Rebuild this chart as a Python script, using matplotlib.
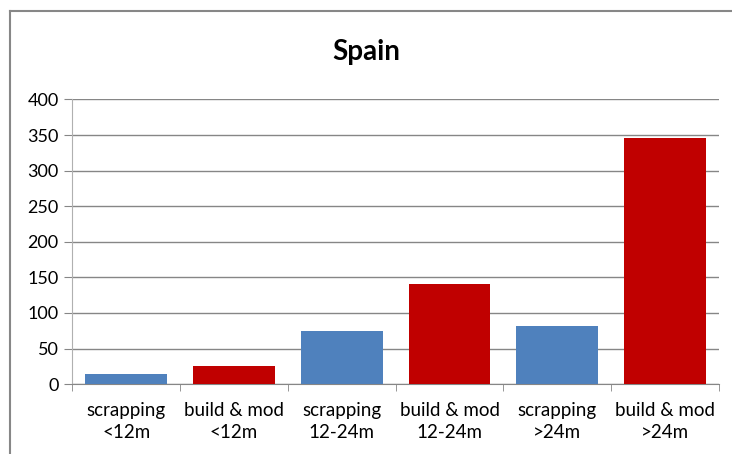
import matplotlib
matplotlib.use('Agg')

import matplotlib.pyplot as plt
from matplotlib.lines import Line2D
import numpy as np

# Data
categories = ["scrapping\n<12m", "build & mod\n<12m", "scrapping\n12-24m",
              "build & mod\n12-24m", "scrapping\n>24m", "build & mod\n>24m"]
values = [14, 25, 75, 141, 82, 346]
bar_colors = ["#4F81BD", "#C00000", "#4F81BD", "#C00000", "#4F81BD", "#C00000"]
y_ticks = [0, 50, 100, 150, 200, 250, 300, 350, 400]

plt.rcParams['font.family'] = ['Lato', 'DejaVu Sans']

fig = plt.figure(figsize=(7.32, 4.54), dpi=100)
ax = fig.add_axes([0.099, 0.154, 0.883, 0.627])

# outer chart frame: only top and left edges show (rest cut off)
frame_x = 10 / 732
frame_y = 1 - 11 / 454
fig.lines.append(Line2D([frame_x, 1.0], [frame_y, frame_y], transform=fig.transFigure,
                        color="#878787", linewidth=1.5))
fig.lines.append(Line2D([frame_x, frame_x], [0.0, frame_y], transform=fig.transFigure,
                        color="#878787", linewidth=1.5))

x = np.arange(len(categories))
ax.bar(x, values, width=0.76, color=bar_colors, zorder=3)

ax.set_xlim(-0.5, len(categories) - 0.5)
ax.set_ylim(0, 400)
ax.set_yticks(y_ticks)
ax.yaxis.grid(True, color="#868686", linewidth=1.0, zorder=0)

ax.set_xticks(x)
ax.set_xticklabels(categories, fontsize=13.5, linespacing=1.35)
ax.set_xticks(np.arange(-0.5, len(categories)), minor=True)
ax.tick_params(axis='x', which='major', length=0, pad=13)
ax.tick_params(axis='x', which='minor', length=5, color="#868686", direction='out')
ax.tick_params(axis='y', length=6, color="#868686", labelsize=13, pad=4)

for side in ['top', 'right']:
    ax.spines[side].set_visible(False)
ax.spines['left'].set_color("#B0B0B0")
ax.spines['bottom'].set_color("#868686")

fig.text(0.5, 0.885, "Spain", ha='center', va='center', fontsize=20, fontweight='bold')

plt.savefig("out.png", dpi=100)
plt.close(fig)
